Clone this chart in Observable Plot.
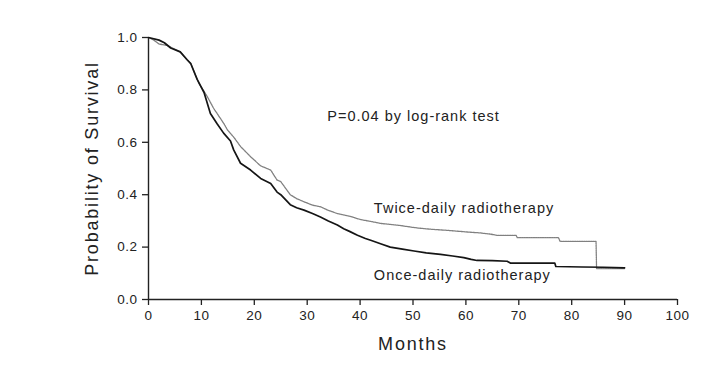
<!DOCTYPE html>
<html>
<head>
<meta charset="utf-8">
<script src="https://cdn.jsdelivr.net/npm/d3@7"></script>
<script src="https://cdn.jsdelivr.net/npm/@observablehq/plot@0.6"></script>
<style>
  html, body { margin: 0; padding: 0; background: #fff; }
  #chart { width: 720px; height: 365px; }
</style>
</head>
<body>
<div id="chart"></div>
<script>
// Once-daily radiotherapy (solid black)
const onceMonths = [0, 2, 3, 4.2, 6, 7.3, 8, 9.2, 10.5, 11.7, 13, 14.2, 15.5, 16.1, 17.4, 19.3, 21.2, 23.1, 24.3, 25, 26.8, 28, 29.4, 31, 32.5, 34, 35.7, 36.9, 38, 39.5, 41, 42, 44, 45.7, 48, 50.2, 52.5, 55.2, 57.5, 59.6, 61, 62.1, 65, 67.8, 68.4, 76.8, 77, 82, 86, 90];
const onceSurv = [1.0, 0.99, 0.98, 0.96, 0.945, 0.915, 0.9, 0.84, 0.79, 0.71, 0.67, 0.635, 0.605, 0.571, 0.52, 0.494, 0.462, 0.443, 0.41, 0.40, 0.362, 0.35, 0.341, 0.328, 0.315, 0.30, 0.284, 0.27, 0.26, 0.245, 0.233, 0.226, 0.212, 0.2, 0.192, 0.185, 0.178, 0.172, 0.166, 0.16, 0.153, 0.149, 0.148, 0.146, 0.139, 0.139, 0.126, 0.124, 0.123, 0.121];

// Twice-daily radiotherapy (gray dotted)
const twiceMonths = [0, 1, 2, 3.5, 4.5, 6, 7.3, 8, 9.5, 11.1, 12.3, 14.2, 14.9, 16.1, 17.4, 19.3, 21.2, 23.1, 24.3, 25, 26.8, 28, 29.4, 31, 32.5, 34, 35.7, 38, 40.1, 42, 44, 47, 50.8, 53.5, 56.5, 60, 62.8, 64.5, 65.9, 69.5, 69.7, 77.5, 77.8, 84.6, 84.7, 90];
const twiceSurv = [1.0, 0.99, 0.975, 0.97, 0.96, 0.945, 0.915, 0.9, 0.826, 0.775, 0.73, 0.673, 0.648, 0.62, 0.584, 0.545, 0.51, 0.494, 0.456, 0.45, 0.40, 0.385, 0.373, 0.36, 0.354, 0.34, 0.328, 0.318, 0.305, 0.298, 0.29, 0.284, 0.273, 0.268, 0.264, 0.258, 0.254, 0.25, 0.245, 0.245, 0.236, 0.236, 0.222, 0.222, 0.118, 0.118];

const xTicks = [0, 10, 20, 30, 40, 50, 60, 70, 80, 90, 100];
const yTicks = [0, 0.2, 0.4, 0.6, 0.8, 1.0];

const annotationText = ["P=0.04 by log-rank test", "Twice-daily radiotherapy", "Once-daily radiotherapy"];
const annotationX = [33.8, 42.6, 42.6];
const annotationY = [0.70, 0.347, 0.092];

const xLabel = "Months";
const yLabel = "Probability of Survival";

const once = onceMonths.map((t, i) => ({t, s: onceSurv[i]}));
const twice = twiceMonths.map((t, i) => ({t, s: twiceSurv[i]}));
const notes = annotationText.map((text, i) => ({text, x: annotationX[i], y: annotationY[i]}));

const font = "'Liberation Sans', Arial, Helvetica, sans-serif";

const plot = Plot.plot({
  width: 720,
  height: 365,
  marginLeft: 148,
  marginRight: 43,
  marginTop: 37,
  marginBottom: 66,
  x: {domain: [0, 100]},
  y: {domain: [0, 1]},
  style: {fontFamily: font, fontSize: "13.5px", color: "#222", background: "#fff"},
  marks: [
    Plot.axisX({ticks: xTicks, tickSize: 6, tickPadding: 5, label: null, strokeWidth: 1.3}),
    Plot.axisY({ticks: yTicks, tickSize: 6, tickPadding: 5, tickFormat: d3.format(".1f"), label: null, strokeWidth: 1.3}),
    Plot.ruleY([0], {stroke: "#222", strokeWidth: 1.4}),
    Plot.ruleX([0], {stroke: "#222", strokeWidth: 1.4}),
    Plot.line(twice, {x: "t", y: "s", curve: "linear", stroke: "#808080", strokeWidth: 1.3, strokeDasharray: "1.5,0.8"}),
    Plot.line(once, {x: "t", y: "s", curve: "linear", stroke: "#151515", strokeWidth: 1.7}),
    Plot.text(notes, {x: "x", y: "y", text: "text", textAnchor: "start", fontSize: 14.5, fill: "#222"}),
    Plot.text([xLabel], {frameAnchor: "bottom", dy: 50, textAnchor: "middle", fontSize: 18, fill: "#222"}),
    Plot.text([yLabel], {frameAnchor: "left", dx: -56, rotate: -90, textAnchor: "middle", lineAnchor: "middle", fontSize: 18, fill: "#222"})
  ]
});

document.getElementById("chart").appendChild(plot);

// letter spacing to mimic the wide Helvetica of the original
d3.select(plot).selectAll("text").each(function() {
  const t = this.textContent;
  const el = d3.select(this);
  if (t === xLabel || t === yLabel) el.style("letter-spacing", "1.8px");
  else if (annotationText.includes(t)) el.style("letter-spacing", "1px");
});
d3.select(plot).selectAll("g[aria-label='x-axis tick label'] text, g[aria-label='y-axis tick label'] text").style("letter-spacing", "0.5px");
</script>
</body>
</html>
